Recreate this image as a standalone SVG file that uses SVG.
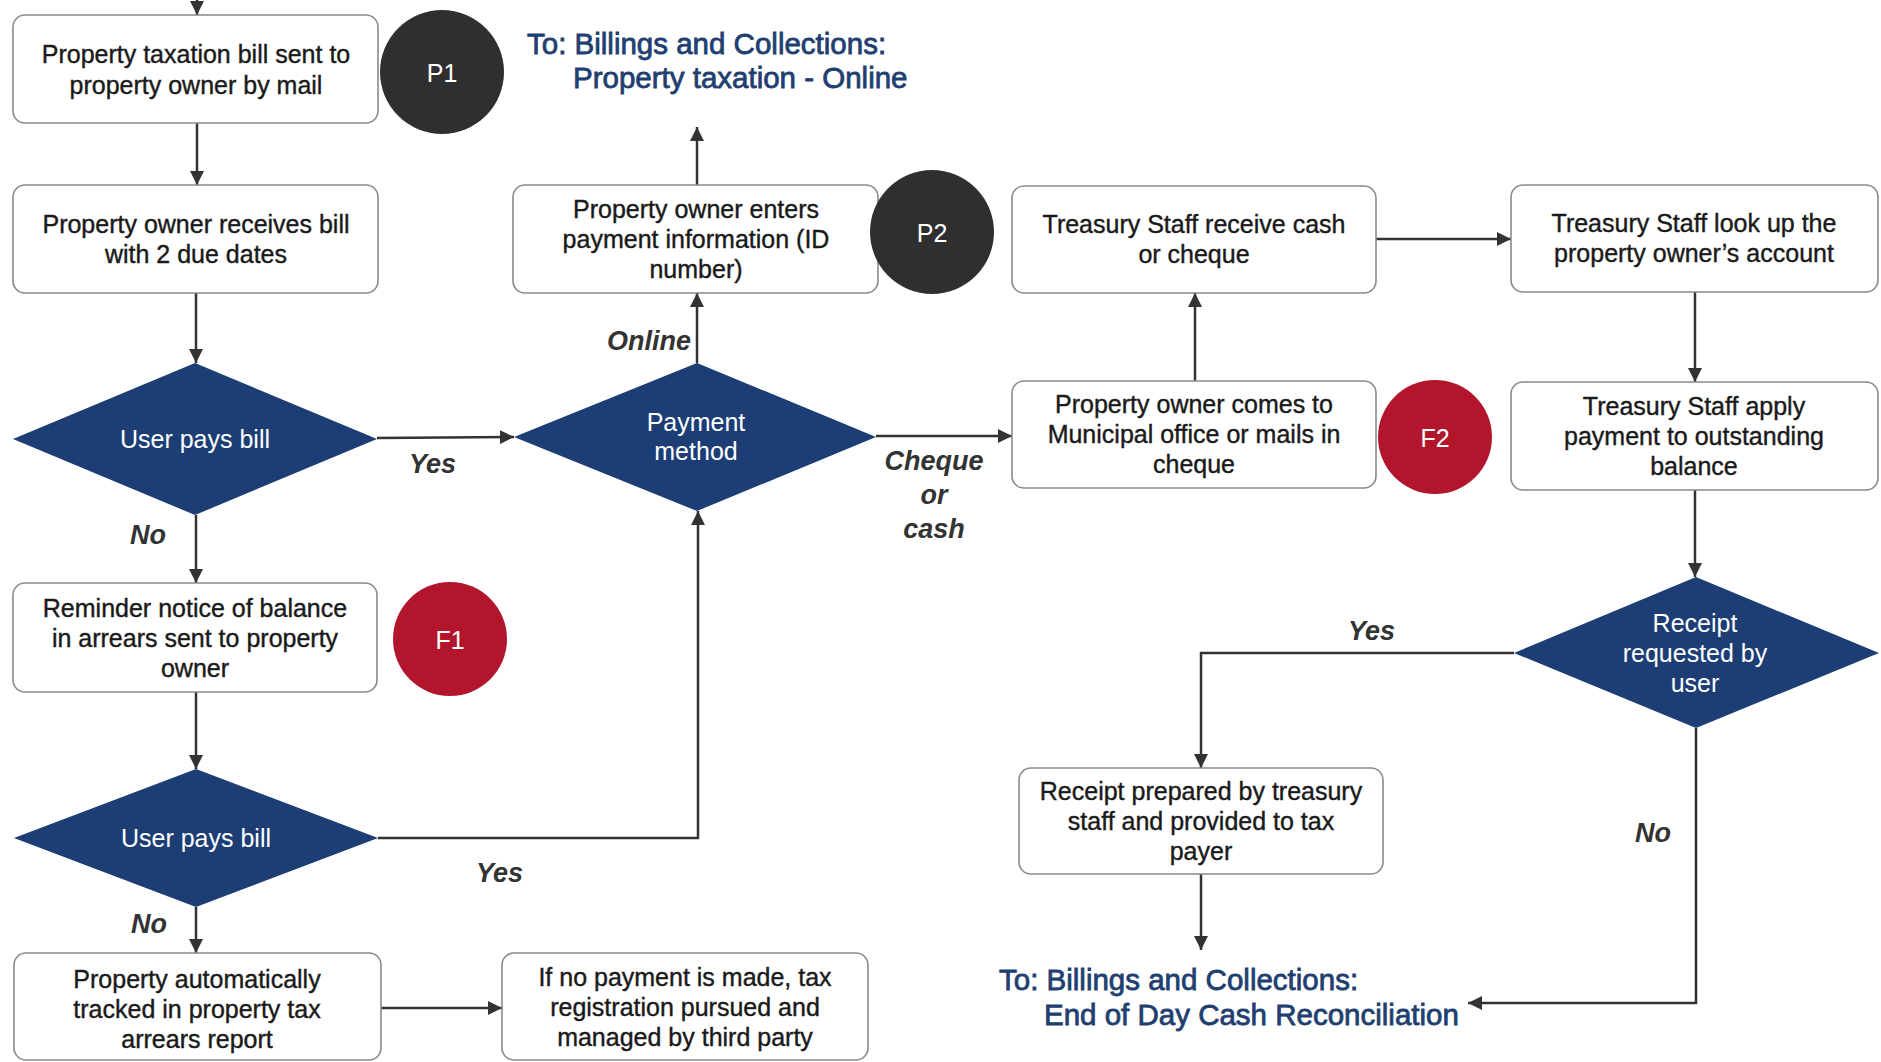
<svg xmlns="http://www.w3.org/2000/svg" width="1881" height="1062" viewBox="0 0 1881 1062">
  <style>
    .box { fill: #ffffff; stroke: #8a8a8a; stroke-width: 1.6; }
    .dia { fill: #1c3e75; }
    .pc { fill: #2f2f2f; }
    .fc { fill: #b3162c; }
    .t { font-family: "Liberation Sans", Arial, sans-serif; font-size: 25px; fill: #1a1a1a; stroke: #1a1a1a; stroke-width: 0.4; text-anchor: middle; }
    .wt { font-family: "Liberation Sans", Arial, sans-serif; font-size: 25px; fill: #ffffff; text-anchor: middle; }
    .lbl { font-family: "Liberation Sans", Arial, sans-serif; font-size: 27px; font-style: italic; font-weight: bold; fill: #333333; }
    .ref { font-family: "Liberation Sans", Arial, sans-serif; font-size: 29.5px; fill: #1f3f70; stroke: #1f3f70; stroke-width: 0.8; }
    .c { fill: none; stroke: #333333; stroke-width: 2.5; }
  </style>
  <defs>
    <marker id="arr" viewBox="0 0 12 12" refX="12" refY="6" markerWidth="14" markerHeight="14" markerUnits="userSpaceOnUse" orient="auto">
      <path d="M0,0 L12,6 L0,12 z" fill="#333333"/>
    </marker>
  </defs>
  <rect width="1881" height="1062" fill="#ffffff"/>

  <!-- connectors -->
  <g id="connectors">
    <path class="c" marker-end="url(#arr)" d="M197,-2 L197,15"/>
    <path class="c" marker-end="url(#arr)" d="M197,123 L197,185"/>
    <path class="c" marker-end="url(#arr)" d="M196,293 L196,363"/>
    <path class="c" marker-end="url(#arr)" d="M377,438 L514,437"/>
    <path class="c" marker-end="url(#arr)" d="M196,515 L196,583"/>
    <path class="c" marker-end="url(#arr)" d="M196,692 L196,769"/>
    <path class="c" marker-end="url(#arr)" d="M378,838 L698,838 L698,511"/>
    <path class="c" marker-end="url(#arr)" d="M196,907 L196,953"/>
    <path class="c" marker-end="url(#arr)" d="M381,1008 L502,1008"/>
    <path class="c" marker-end="url(#arr)" d="M697,363 L697,293"/>
    <path class="c" marker-end="url(#arr)" d="M697,185 L697,127"/>
    <path class="c" marker-end="url(#arr)" d="M876,436 L1012,436"/>
    <path class="c" marker-end="url(#arr)" d="M1195,381 L1195,293"/>
    <path class="c" marker-end="url(#arr)" d="M1376,239 L1511,239"/>
    <path class="c" marker-end="url(#arr)" d="M1695,292 L1695,382"/>
    <path class="c" marker-end="url(#arr)" d="M1695,490 L1695,577"/>
    <path class="c" marker-end="url(#arr)" d="M1514,653 L1201,653 L1201,768"/>
    <path class="c" marker-end="url(#arr)" d="M1201,874 L1201,950"/>
    <path class="c" marker-end="url(#arr)" d="M1696,728 L1696,1003 L1468,1003"/>

    <text class="lbl" x="409" y="473">Yes</text>
    <text class="lbl" x="130" y="544">No</text>
    <text class="lbl" x="476" y="882">Yes</text>
    <text class="lbl" x="131" y="933">No</text>
    <text class="lbl" x="691" y="350" text-anchor="end">Online</text>
    <text class="lbl" x="934" y="470" text-anchor="middle">Cheque</text>
    <text class="lbl" x="934" y="504" text-anchor="middle">or</text>
    <text class="lbl" x="934" y="538" text-anchor="middle">cash</text>
    <text class="lbl" x="1348" y="640">Yes</text>
    <text class="lbl" x="1635" y="842">No</text>
  </g>

  <!-- process boxes -->
  <g id="bill-sent">
    <rect class="box" x="13" y="15" width="365" height="108" rx="12"/>
    <text class="t" x="196" y="63">Property taxation bill sent to</text>
    <text class="t" x="196" y="94">property owner by mail</text>
  </g>
  <g id="p1">
    <circle class="pc" cx="442" cy="72" r="62"/>
    <text class="wt" x="442" y="82">P1</text>
  </g>
  <g id="bill-received">
    <rect class="box" x="13" y="185" width="365" height="108" rx="12"/>
    <text class="t" x="196" y="233">Property owner receives bill</text>
    <text class="t" x="196" y="263">with 2 due dates</text>
  </g>
  <g id="pays-bill-1">
    <polygon class="dia" points="13,439 195,363 377,439 195,515"/>
    <text class="wt" x="195" y="448">User pays bill</text>
  </g>
  <g id="reminder">
    <rect class="box" x="13" y="583" width="364" height="109" rx="12"/>
    <text class="t" x="195" y="617">Reminder notice of balance</text>
    <text class="t" x="195" y="647">in arrears sent to property</text>
    <text class="t" x="195" y="677">owner</text>
  </g>
  <g id="f1">
    <circle class="fc" cx="450" cy="639" r="57"/>
    <text class="wt" x="450" y="649">F1</text>
  </g>
  <g id="pays-bill-2">
    <polygon class="dia" points="14,838 196,769 378,838 196,907"/>
    <text class="wt" x="196" y="847">User pays bill</text>
  </g>
  <g id="arrears-report">
    <rect class="box" x="14" y="953" width="367" height="107" rx="12"/>
    <text class="t" x="197" y="988">Property automatically</text>
    <text class="t" x="197" y="1018">tracked in property tax</text>
    <text class="t" x="197" y="1048">arrears report</text>
  </g>
  <g id="tax-registration">
    <rect class="box" x="502" y="953" width="366" height="107" rx="12"/>
    <text class="t" x="685" y="986">If no payment is made, tax</text>
    <text class="t" x="685" y="1016">registration pursued and</text>
    <text class="t" x="685" y="1046">managed by third party</text>
  </g>
  <g id="payment-method">
    <polygon class="dia" points="514,437 697,363 876,437 697,511"/>
    <text class="wt" x="696" y="431">Payment</text>
    <text class="wt" x="696" y="460">method</text>
  </g>
  <g id="online-entry">
    <rect class="box" x="513" y="185" width="365" height="108" rx="12"/>
    <text class="t" x="696" y="218">Property owner enters</text>
    <text class="t" x="696" y="248">payment information (ID</text>
    <text class="t" x="696" y="278">number)</text>
  </g>
  <g id="p2">
    <circle class="pc" cx="932" cy="232" r="62"/>
    <text class="wt" x="932" y="242">P2</text>
  </g>
  <g id="to-online">
    <text class="ref" x="527" y="54">To: Billings and Collections:</text>
    <text class="ref" x="573" y="88">Property taxation - Online</text>
  </g>
  <g id="office-payment">
    <rect class="box" x="1012" y="381" width="364" height="107" rx="12"/>
    <text class="t" x="1194" y="413">Property owner comes to</text>
    <text class="t" x="1194" y="443">Municipal office or mails in</text>
    <text class="t" x="1194" y="473">cheque</text>
  </g>
  <g id="f2">
    <circle class="fc" cx="1435" cy="437" r="57"/>
    <text class="wt" x="1435" y="447">F2</text>
  </g>
  <g id="receive-cash">
    <rect class="box" x="1012" y="186" width="364" height="107" rx="12"/>
    <text class="t" x="1194" y="233">Treasury Staff receive cash</text>
    <text class="t" x="1194" y="263">or cheque</text>
  </g>
  <g id="lookup-account">
    <rect class="box" x="1511" y="185" width="367" height="107" rx="12"/>
    <text class="t" x="1694" y="232">Treasury Staff look up the</text>
    <text class="t" x="1694" y="262">property owner’s account</text>
  </g>
  <g id="apply-payment">
    <rect class="box" x="1511" y="382" width="367" height="108" rx="12"/>
    <text class="t" x="1694" y="415">Treasury Staff apply</text>
    <text class="t" x="1694" y="445">payment to outstanding</text>
    <text class="t" x="1694" y="475">balance</text>
  </g>
  <g id="receipt-requested">
    <polygon class="dia" points="1514,653 1696,577 1879,653 1696,728"/>
    <text class="wt" x="1695" y="632">Receipt</text>
    <text class="wt" x="1695" y="662">requested by</text>
    <text class="wt" x="1695" y="692">user</text>
  </g>
  <g id="receipt-prepared">
    <rect class="box" x="1019" y="768" width="364" height="106" rx="12"/>
    <text class="t" x="1201" y="800">Receipt prepared by treasury</text>
    <text class="t" x="1201" y="830">staff and provided to tax</text>
    <text class="t" x="1201" y="860">payer</text>
  </g>
  <g id="to-reconciliation">
    <text class="ref" x="999" y="990">To: Billings and Collections:</text>
    <text class="ref" x="1044" y="1025">End of Day Cash Reconciliation</text>
  </g>
</svg>
